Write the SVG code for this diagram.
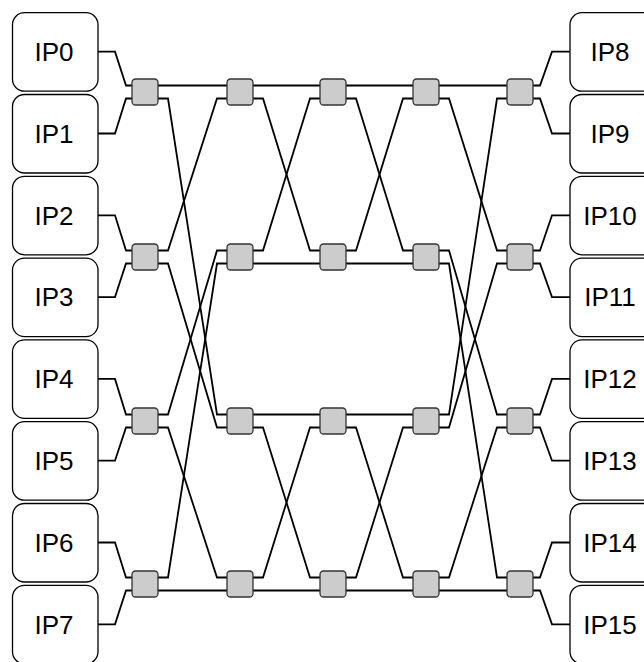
<svg xmlns="http://www.w3.org/2000/svg" width="644" height="662" viewBox="0 0 644 662">
  <style>
    .ip rect { fill: #fff; stroke: #000; stroke-width: 1.3; }
    .ip text { font-family: "Liberation Sans", Arial, sans-serif; font-size: 26px; fill: #000; text-anchor: middle; }
    .sw rect { fill: #cccccc; stroke: #333; stroke-width: 1.3; }
    #links path { fill: none; stroke: #000; stroke-width: 1.8; stroke-linejoin: miter; }
  </style>
  <rect width="644" height="662" fill="#fff"/>

  <!-- connectors: IP stubs, stage-to-stage wiring -->
  <g id="links">
    <!-- left IPs to first stage -->
    <path d="M98 51.7 H115 L126 85.5 H132"/>
    <path d="M98 133.5 H115 L126 98.5 H132"/>
    <path d="M98 215.3 H115 L126 250.5 H132"/>
    <path d="M98 297.1 H115 L126 263.5 H132"/>
    <path d="M98 378.9 H115 L126 414.5 H132"/>
    <path d="M98 460.7 H115 L126 427.5 H132"/>
    <path d="M98 542.5 H115 L126 577.5 H132"/>
    <path d="M98 624.3 H115 L126 590.5 H132"/>

    <!-- straight runs -->
    <path d="M158 85.5 H227 M253 85.5 H320 M346 85.5 H413 M439 85.5 H507"/>
    <path d="M158 590.5 H227 M253 590.5 H320 M346 590.5 H413 M439 590.5 H507"/>
    <path d="M253 263.5 H320 M346 263.5 H413"/>
    <path d="M253 414.5 H320 M346 414.5 H413"/>

    <!-- stage 1 to stage 2 -->
    <path d="M158 98.5 H168 L217 414.5 H227"/>
    <path d="M158 250.5 H168 L217 98.5 H227"/>
    <path d="M158 263.5 H168 L217 427.5 H227"/>
    <path d="M158 414.5 H168 L217 250.5 H227"/>
    <path d="M158 427.5 H168 L217 577.5 H227"/>
    <path d="M158 577.5 H168 L217 263.5 H227"/>

    <!-- stage 2 to stage 3 -->
    <path d="M253 98.5 H263 L310 250.5 H320"/>
    <path d="M253 250.5 H263 L310 98.5 H320"/>
    <path d="M253 427.5 H263 L310 577.5 H320"/>
    <path d="M253 577.5 H263 L310 427.5 H320"/>

    <!-- stage 3 to stage 4 -->
    <path d="M346 98.5 H356 L403 250.5 H413"/>
    <path d="M346 250.5 H356 L403 98.5 H413"/>
    <path d="M346 427.5 H356 L403 577.5 H413"/>
    <path d="M346 577.5 H356 L403 427.5 H413"/>

    <!-- stage 4 to stage 5 -->
    <path d="M439 98.5 H449 L497 250.5 H507"/>
    <path d="M439 250.5 H449 L497 414.5 H507"/>
    <path d="M439 263.5 H449 L497 577.5 H507"/>
    <path d="M439 414.5 H449 L497 98.5 H507"/>
    <path d="M439 427.5 H449 L497 263.5 H507"/>
    <path d="M439 577.5 H449 L497 427.5 H507"/>

    <!-- last stage to right IPs -->
    <path d="M533 85.5 H540 L552 51.7 H570"/>
    <path d="M533 98.5 H540 L552 133.5 H570"/>
    <path d="M533 250.5 H540 L552 215.3 H570"/>
    <path d="M533 263.5 H540 L552 297.1 H570"/>
    <path d="M533 414.5 H540 L552 378.9 H570"/>
    <path d="M533 427.5 H540 L552 460.7 H570"/>
    <path d="M533 577.5 H540 L552 542.5 H570"/>
    <path d="M533 590.5 H540 L552 624.3 H570"/>
  </g>

  <!-- left IP blocks -->
  <g id="ip0" class="ip"><rect x="12.5" y="12.7" width="85.5" height="78.5" rx="12"/><text x="54" y="61">IP0</text></g>
  <g id="ip1" class="ip"><rect x="12.5" y="94.5" width="85.5" height="78.5" rx="12"/><text x="54" y="142.8">IP1</text></g>
  <g id="ip2" class="ip"><rect x="12.5" y="176.3" width="85.5" height="78.5" rx="12"/><text x="54" y="224.6">IP2</text></g>
  <g id="ip3" class="ip"><rect x="12.5" y="258.1" width="85.5" height="78.5" rx="12"/><text x="54" y="306.4">IP3</text></g>
  <g id="ip4" class="ip"><rect x="12.5" y="339.9" width="85.5" height="78.5" rx="12"/><text x="54" y="388.2">IP4</text></g>
  <g id="ip5" class="ip"><rect x="12.5" y="421.7" width="85.5" height="78.5" rx="12"/><text x="54" y="470">IP5</text></g>
  <g id="ip6" class="ip"><rect x="12.5" y="503.5" width="85.5" height="78.5" rx="12"/><text x="54" y="551.8">IP6</text></g>
  <g id="ip7" class="ip"><rect x="12.5" y="585.3" width="85.5" height="78.5" rx="12"/><text x="54" y="633.6">IP7</text></g>

  <!-- right IP blocks -->
  <g id="ip8" class="ip"><rect x="570" y="12.7" width="90" height="78.5" rx="12"/><text x="610" y="61">IP8</text></g>
  <g id="ip9" class="ip"><rect x="570" y="94.5" width="90" height="78.5" rx="12"/><text x="610" y="142.8">IP9</text></g>
  <g id="ip10" class="ip"><rect x="570" y="176.3" width="90" height="78.5" rx="12"/><text x="610" y="224.6">IP10</text></g>
  <g id="ip11" class="ip"><rect x="570" y="258.1" width="90" height="78.5" rx="12"/><text x="610" y="306.4">IP11</text></g>
  <g id="ip12" class="ip"><rect x="570" y="339.9" width="90" height="78.5" rx="12"/><text x="610" y="388.2">IP12</text></g>
  <g id="ip13" class="ip"><rect x="570" y="421.7" width="90" height="78.5" rx="12"/><text x="610" y="470">IP13</text></g>
  <g id="ip14" class="ip"><rect x="570" y="503.5" width="90" height="78.5" rx="12"/><text x="610" y="551.8">IP14</text></g>
  <g id="ip15" class="ip"><rect x="570" y="585.3" width="90" height="78.5" rx="12"/><text x="610" y="633.6">IP15</text></g>

  <!-- switches: 5 stages x 4 rows -->
  <g id="sw-1-0" class="sw"><rect x="132" y="79" width="26" height="26" rx="3.5"/></g>
  <g id="sw-1-1" class="sw"><rect x="132" y="244" width="26" height="26" rx="3.5"/></g>
  <g id="sw-1-2" class="sw"><rect x="132" y="408" width="26" height="26" rx="3.5"/></g>
  <g id="sw-1-3" class="sw"><rect x="132" y="571" width="26" height="26" rx="3.5"/></g>

  <g id="sw-2-0" class="sw"><rect x="227" y="79" width="26" height="26" rx="3.5"/></g>
  <g id="sw-2-1" class="sw"><rect x="227" y="244" width="26" height="26" rx="3.5"/></g>
  <g id="sw-2-2" class="sw"><rect x="227" y="408" width="26" height="26" rx="3.5"/></g>
  <g id="sw-2-3" class="sw"><rect x="227" y="571" width="26" height="26" rx="3.5"/></g>

  <g id="sw-3-0" class="sw"><rect x="320" y="79" width="26" height="26" rx="3.5"/></g>
  <g id="sw-3-1" class="sw"><rect x="320" y="244" width="26" height="26" rx="3.5"/></g>
  <g id="sw-3-2" class="sw"><rect x="320" y="408" width="26" height="26" rx="3.5"/></g>
  <g id="sw-3-3" class="sw"><rect x="320" y="571" width="26" height="26" rx="3.5"/></g>

  <g id="sw-4-0" class="sw"><rect x="413" y="79" width="26" height="26" rx="3.5"/></g>
  <g id="sw-4-1" class="sw"><rect x="413" y="244" width="26" height="26" rx="3.5"/></g>
  <g id="sw-4-2" class="sw"><rect x="413" y="408" width="26" height="26" rx="3.5"/></g>
  <g id="sw-4-3" class="sw"><rect x="413" y="571" width="26" height="26" rx="3.5"/></g>

  <g id="sw-5-0" class="sw"><rect x="507" y="79" width="26" height="26" rx="3.5"/></g>
  <g id="sw-5-1" class="sw"><rect x="507" y="244" width="26" height="26" rx="3.5"/></g>
  <g id="sw-5-2" class="sw"><rect x="507" y="408" width="26" height="26" rx="3.5"/></g>
  <g id="sw-5-3" class="sw"><rect x="507" y="571" width="26" height="26" rx="3.5"/></g>
</svg>
